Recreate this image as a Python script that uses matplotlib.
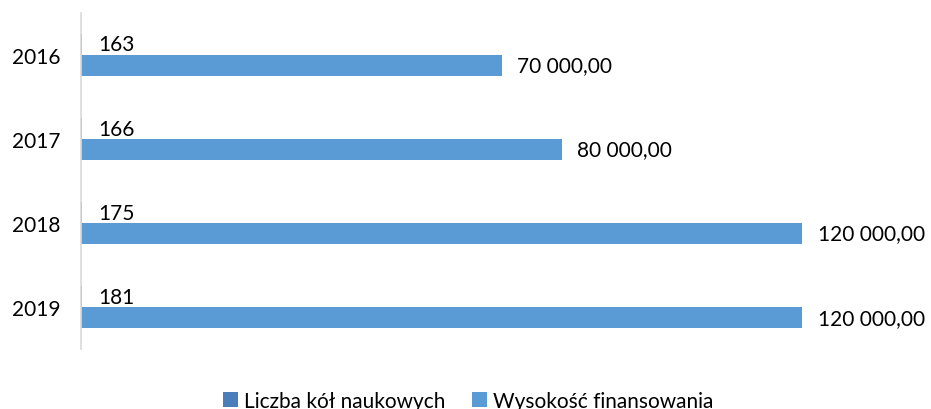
import numpy as np
import matplotlib.pyplot as plt

years = ['2016', '2017', '2018', '2019']
kola = [163, 166, 175, 181]
finansowanie = [70000, 80000, 120000, 120000]
kola_labels = ['163', '166', '175', '181']
fin_labels = ['70 000,00', '80 000,00', '120 000,00', '120 000,00']

plt.rcParams['font.family'] = ['Lato', 'DejaVu Sans']

fig = plt.figure(figsize=(9.31, 4.10), dpi=100)
ax = fig.add_axes([0.087, 0.146, 0.904, 0.82])

y = np.arange(len(years))
h = 0.25
b1 = ax.barh(y - h / 2, kola, height=h, color='#4a7ebb', label='Liczba kół naukowych')
b2 = ax.barh(y + h / 2, finansowanie, height=h, color='#5b9bd5', label='Wysokość finansowania')

for bar, txt in zip(b1, kola_labels):
    ax.annotate(txt, (bar.get_width(), bar.get_y() + bar.get_height() / 2),
                xytext=(12, 0), textcoords='offset points', va='center', ha='left', fontsize=15)
for bar, txt in zip(b2, fin_labels):
    ax.annotate(txt, (bar.get_width(), bar.get_y() + bar.get_height() / 2),
                xytext=(11, 0), textcoords='offset points', va='center', ha='left', fontsize=15)

ax.set_xlim(0, 140000)
ax.set_ylim(3.5, -0.5)
ax.set_yticks(y)
ax.set_yticklabels(years, fontsize=15)
ax.set_xticks([])
ax.tick_params(axis='y', length=0, pad=15)
for s in ['top', 'right', 'bottom']:
    ax.spines[s].set_visible(False)
ax.spines['left'].set_color('#d9d9d9')
ax.spines['left'].set_linewidth(1.2)

fig.legend(handles=[b1, b2], loc='center', bbox_to_anchor=(0.503, 0.02), ncol=2,
           frameon=False, fontsize=15, handlelength=0.7, handleheight=0.7,
           handletextpad=0.3, columnspacing=1.3)

fig.savefig('out.png', dpi=100)
